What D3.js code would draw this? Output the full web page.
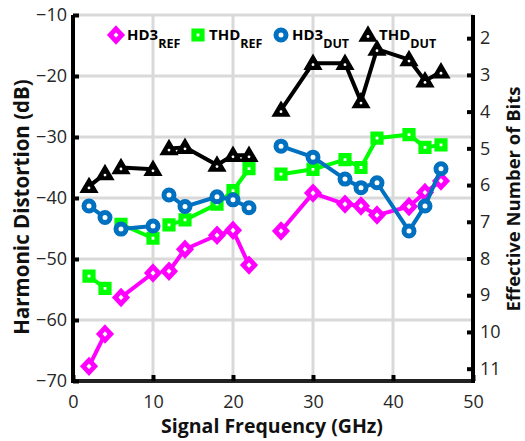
<!DOCTYPE html>
<html>
<head>
<meta charset="utf-8">
<script src="https://cdn.jsdelivr.net/npm/d3@7"></script>
<style>
  html, body { margin: 0; padding: 0; background: #fff; }
  svg { display: block; font-family: "Open Sans", sans-serif; }
</style>
</head>
<body>
<svg id="chart" width="525" height="441"></svg>
<script>
// Signal frequency (GHz) of each measurement and the sweep it belongs to
const freqGHz = [2, 4, 6, 10, 12, 14, 18, 20, 22, 26, 30, 34, 36, 38, 42, 44, 46];
const sweep   = [1, 1, 2, 2, 3, 3, 3, 3, 3, 4, 4, 4, 4, 4, 4, 4, 4];

// Distortion in dB
const hd3Ref = [-67.6, -62.3, -56.3, -52.3, -52.0, -48.4, -46.1, -45.3, -51.0,
                -45.4, -39.2, -41.0, -41.3, -42.8, -41.4, -39.1, -37.2];
const thdRef = [-52.8, -54.8, -44.3, -46.6, -44.4, -43.6, -41.0, -38.8, -35.2,
                -36.1, -35.3, -33.7, -35.0, -30.2, -29.6, -31.7, -31.3];
const hd3Dut = [-41.3, -43.2, -45.1, -44.6, -39.5, -41.4, -39.8, -40.3, -41.6,
                -31.5, -33.3, -36.9, -38.3, -37.5, -45.4, -41.3, -35.2];
const thdDut = [-38.1, -36.0, -35.0, -35.3, -31.9, -31.7, -34.6, -33.0, -33.0,
                -25.6, -17.9, -17.9, -24.2, -15.6, -17.3, -20.8, -19.3];

const xTicks = [0, 10, 20, 30, 40, 50];
const yTicks = [-70, -60, -50, -40, -30, -20, -10];
const enobTicks = [2, 3, 4, 5, 6, 7, 8, 9, 10, 11];

const seriesDefs = [
  { name: "HD3", sub: "REF", values: hd3Ref, color: "#ff00ff", marker: "diamond" },
  { name: "THD", sub: "REF", values: thdRef, color: "#00ff00", marker: "square" },
  { name: "HD3", sub: "DUT", values: hd3Dut, color: "#0070c0", marker: "circle" },
  { name: "THD", sub: "DUT", values: thdDut, color: "#000000", marker: "triangle" }
];

const svg = d3.select("#chart");
const plot = { left: 73, right: 473, top: 15, bottom: 381 };

const x = d3.scaleLinear().domain([0, 50]).range([plot.left, plot.right]);
const y = d3.scaleLinear().domain([-70, -10]).range([plot.bottom, plot.top]);
// ENOB = (SINAD - 1.76) / 6.02, with distortion taken as SINAD
const dbToEnob = db => (-db - 1.76) / 6.02;
const yEnob = d3.scaleLinear().domain([dbToEnob(-70), dbToEnob(-10)]).range([plot.bottom, plot.top]);

// grid
const grid = svg.append("g").attr("stroke", "#d9d9d9").attr("stroke-width", 3);
grid.selectAll("line.v").data(xTicks.filter(t => t > 0 && t < 50)).join("line")
  .attr("class", "v")
  .attr("x1", d => x(d)).attr("x2", d => x(d)).attr("y1", plot.top).attr("y2", plot.bottom);
grid.selectAll("line.h").data(yTicks.filter(t => t > -70)).join("line")
  .attr("class", "h")
  .attr("x1", plot.left).attr("x2", plot.right).attr("y1", d => y(d)).attr("y2", d => y(d));

// markers: thick outlines with a small white centre
function markerPath(kind) {
  switch (kind) {
    case "diamond": return "M0,-6.2L5.8,0L0,6.2L-5.8,0Z";
    case "square": return "M-4,-4H4V4H-4Z";
    case "triangle": return "M0,-6.8L7,5.2H-7Z";
    default: return null;
  }
}
function drawMarker(g, kind, color) {
  if (kind === "circle") {
    g.append("circle").attr("r", 5).attr("fill", "#fff")
      .attr("stroke", color).attr("stroke-width", 5);
  } else if (kind === "triangle") {
    g.append("path").attr("d", markerPath(kind)).attr("fill", color)
      .attr("stroke", color).attr("stroke-width", 3).attr("stroke-linejoin", "miter");
    g.append("circle").attr("cy", 1.5).attr("r", 1.4).attr("fill", "#fff");
  } else {
    g.append("path").attr("d", markerPath(kind)).attr("fill", "#fff")
      .attr("stroke", color).attr("stroke-width", kind === "square" ? 5.2 : 4.8)
      .attr("stroke-linejoin", "miter");
  }
}

const line = d3.line().x(d => x(d.f)).y(d => y(d.v));

seriesDefs.forEach(s => {
  const pts = freqGHz.map((f, i) => ({ f, v: s.values[i], sweep: sweep[i] }));
  const groups = d3.groups(pts, d => d.sweep);
  const g = svg.append("g");
  groups.forEach(([, seg]) => {
    g.append("path").attr("d", line(seg)).attr("fill", "none")
      .attr("stroke", s.color).attr("stroke-width", 4).attr("stroke-linejoin", "round");
  });
  pts.forEach(p => {
    const m = g.append("g").attr("transform", `translate(${x(p.f)},${y(p.v)})`);
    drawMarker(m, s.marker, s.color);
  });
});

// axes
const axisG = svg.append("g");
const xAxis = axisG.append("g").attr("transform", `translate(0,${plot.bottom})`)
  .call(d3.axisBottom(x).tickValues(xTicks).tickSizeInner(-6).tickSizeOuter(0).tickPadding(14));
const yAxis = axisG.append("g").attr("transform", `translate(${plot.left},0)`)
  .call(d3.axisLeft(y).tickValues(yTicks).tickSizeInner(-6).tickSizeOuter(0).tickPadding(6));
const rAxis = axisG.append("g").attr("transform", `translate(${plot.right},0)`)
  .call(d3.axisRight(yEnob).tickValues(enobTicks).tickSizeInner(-6).tickSizeOuter(0).tickPadding(7));

[xAxis, yAxis, rAxis].forEach(a => {
  a.select(".domain").attr("stroke", "#000").attr("stroke-width", 4);
  a.selectAll(".tick line").attr("stroke", "#000").attr("stroke-width", 4);
  a.selectAll(".tick text").attr("fill", "#262626").attr("font-size", 18)
    .attr("font-family", "'Open Sans', sans-serif");
});
xAxis.select(".domain").attr("stroke", "#222").attr("d", `M${plot.left - 2},0H${plot.right + 2}`);
yAxis.select(".domain").attr("d", `M0,${plot.top}V${plot.bottom + 2}`);
rAxis.select(".domain").attr("d", `M0,${plot.top}V${plot.bottom + 2}`);

// axis titles
svg.append("text").attr("x", 272).attr("y", 433).attr("text-anchor", "middle")
  .attr("font-weight", "bold").attr("font-size", 19.5).attr("fill", "#111")
  .text("Signal Frequency (GHz)");
svg.append("text").attr("transform", `translate(29,207) rotate(-90)`).attr("text-anchor", "middle")
  .attr("font-weight", "bold").attr("font-size", 20.5).attr("fill", "#111")
  .text("Harmonic Distortion (dB)");
svg.append("text").attr("transform", `translate(520,199) rotate(-90)`).attr("text-anchor", "middle")
  .attr("font-weight", "bold").attr("font-size", 18.5).attr("fill", "#111")
  .text("Effective Number of Bits");

// legend
const legendX = [116, 198, 281, 368];
const legend = svg.append("g");
seriesDefs.forEach((s, i) => {
  const item = legend.append("g").attr("transform", `translate(${legendX[i]},35)`);
  drawMarker(item.append("g"), s.marker, s.color);
  const t = item.append("text").attr("x", 11).attr("y", 5)
    .attr("font-weight", "bold").attr("font-size", 15).attr("fill", "#000");
  t.append("tspan").text(s.name);
  t.append("tspan").attr("dy", 8).attr("font-size", 12.5).text(s.sub);
});
</script>
</body>
</html>
